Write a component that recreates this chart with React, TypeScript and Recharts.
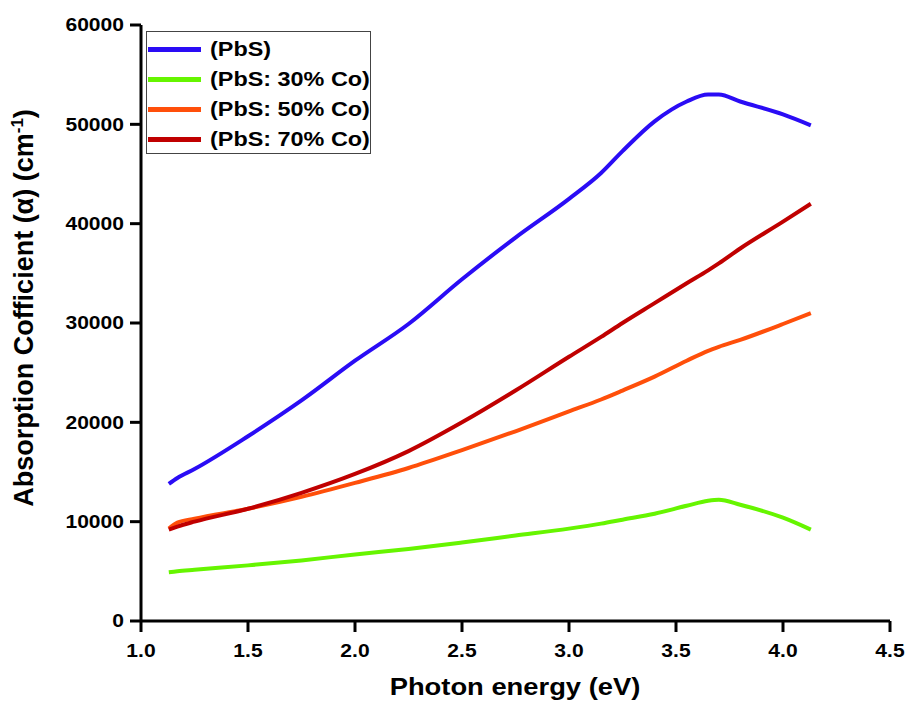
import React from "react";
import { LineChart, Line, XAxis, YAxis } from "recharts";

const energy = [1.13, 1.17, 1.25, 1.5, 1.75, 2.0, 2.25, 2.5, 2.75, 3.0, 3.15, 3.25, 3.4, 3.55, 3.65, 3.7, 3.8, 4.0, 4.13];
const pbs = [13800, 14400, 15300, 18600, 22200, 26200, 29900, 34400, 38600, 42500, 45100, 47300, 50300, 52300, 53000, 53000, 52300, 51000, 49900];
const co30 = [4900, 5000, 5150, 5600, 6100, 6700, 7250, 7900, 8600, 9300, 9800, 10200, 10800, 11600, 12100, 12200, 11700, 10400, 9200];
const co50 = [9300, 9900, 10300, 11300, 12500, 13900, 15400, 17200, 19100, 21100, 22300, 23200, 24600, 26200, 27200, 27600, 28300, 29900, 31000];
const co70 = [9200, 9500, 10000, 11300, 12900, 14800, 17100, 20000, 23200, 26600, 28600, 30000, 32000, 34000, 35300, 36000, 37500, 40200, 42000];

const xTicks = [1.0, 1.5, 2.0, 2.5, 3.0, 3.5, 4.0, 4.5];
const xMinor = [1.25, 1.75, 2.25, 2.75, 3.25, 3.75, 4.25];
const yTicks = [0, 10000, 20000, 30000, 40000, 50000, 60000];
const yMinor = [5000, 15000, 25000, 35000, 45000, 55000];

const series = [
  { key: "pbs", name: "(PbS)", color: "#2a0cf5" },
  { key: "co30", name: "(PbS: 30% Co)", color: "#66f500" },
  { key: "co50", name: "(PbS: 50% Co)", color: "#ff4f0a" },
  { key: "co70", name: "(PbS: 70% Co)", color: "#c00000" },
];

const data = energy.map((e, i) => ({ e, pbs: pbs[i], co30: co30[i], co50: co50[i], co70: co70[i] }));

const FONT = "'Liberation Sans', Arial, sans-serif";
const STRETCH = 1.17;
const MAJOR = 11;
const MINOR = 6;
const XGAP = 12;
const YGAP = 6;

const XTick = (props: any) => {
  const x = Number(props.x);
  const y = Number(props.y);
  return (
    <g>
      <line x1={x} x2={x} y1={y - XGAP - MAJOR} y2={y - XGAP} stroke="#000" strokeWidth={3} />
      <text
        transform={`translate(${x},${y}) scale(${STRETCH},1)`}
        textAnchor="middle"
        dy="0.71em"
        fontFamily={FONT}
        fontSize={18}
        fontWeight={700}
        fill="#000"
      >
        {Number(props.payload.value).toFixed(1)}
      </text>
    </g>
  );
};

const XMinorTick = (props: any) => {
  const x = Number(props.x);
  const y = Number(props.y);
  return <line x1={x} x2={x} y1={y - XGAP} y2={y - XGAP + MINOR} stroke="#000" strokeWidth={3} />;
};

const YTick = (props: any) => {
  const x = Number(props.x);
  const y = Number(props.y);
  return (
    <g>
      <line x1={x + YGAP} x2={x + YGAP + MAJOR} y1={y} y2={y} stroke="#000" strokeWidth={3} />
      <text
        transform={`translate(${x},${y}) scale(${STRETCH},1)`}
        textAnchor="end"
        dy="0.36em"
        fontFamily={FONT}
        fontSize={18}
        fontWeight={700}
        fill="#000"
      >
        {props.payload.value}
      </text>
    </g>
  );
};

const YMinorTick = (props: any) => {
  const x = Number(props.x);
  const y = Number(props.y);
  return <line x1={x + YGAP + MAJOR - MINOR} x2={x + YGAP + MAJOR} y1={y} y2={y} stroke="#000" strokeWidth={3} />;
};

const LegendBox = () => (
  <div
    style={{
      position: "absolute",
      left: 146,
      top: 31,
      width: 225,
      height: 123,
      border: "1px solid #444",
      background: "#fff",
      boxSizing: "border-box",
      fontFamily: FONT,
      paddingTop: 2,
    }}
  >
    {series.map((s) => (
      <div key={s.key} style={{ display: "flex", alignItems: "center", height: 30 }}>
        <div style={{ width: 53, height: 5, background: s.color, marginLeft: 1, marginRight: 9 }} />
        <span
          style={{
            fontSize: 20,
            fontWeight: 700,
            color: "#000",
            display: "inline-block",
            transform: `scaleX(${STRETCH})`,
            transformOrigin: "left center",
            whiteSpace: "nowrap",
          }}
        >
          {s.name}
        </span>
      </div>
    ))}
  </div>
);

const YLabel = () => (
  <text
    x={0}
    y={0}
    transform="translate(33, 308) rotate(-90)"
    textAnchor="middle"
    fontFamily={FONT}
    fontSize={27}
    fontWeight={700}
    fill="#000"
  >
    Absorption Cofficient (α) (cm
    <tspan dy={-10} fontSize={17}>-1</tspan>
    <tspan dy={10}>)</tspan>
  </text>
);

const XLabel = () => (
  <text
    transform={`translate(515, 695) scale(1.14,1)`}
    textAnchor="middle"
    fontFamily={FONT}
    fontSize={24}
    fontWeight={700}
    fill="#000"
  >
    Photon energy (eV)
  </text>
);

export default function App() {
  return (
    <div style={{ position: "absolute", left: 0, top: 0, width: 908, height: 702, background: "#fff" }}>
      <LineChart width={908} height={702} data={data} margin={{ top: 25, right: 18, bottom: 0, left: 0 }}>
        <XAxis
          xAxisId="main"
          dataKey="e"
          type="number"
          domain={[1, 4.5]}
          ticks={xTicks}
          tick={<XTick />}
          tickSize={MAJOR}
          tickMargin={XGAP}
          axisLine={{ stroke: "#000", strokeWidth: 3 }}
          tickLine={false}
          height={81}
          label={<XLabel />}
        />
        <XAxis
          xAxisId="minor"
          dataKey="e"
          type="number"
          domain={[1, 4.5]}
          ticks={xMinor}
          tick={<XMinorTick />}
          tickSize={0}
          tickMargin={XGAP}
          axisLine={false}
          tickLine={false}
          height={0}
        />
        <XAxis
          xAxisId="top"
          orientation="top"
          dataKey="e"
          type="number"
          domain={[1, 4.5]}
          tick={false}
          tickLine={false}
          axisLine={{ stroke: "#000", strokeWidth: 3 }}
          height={0}
        />
        <YAxis
          yAxisId="main"
          domain={[0, 60000]}
          ticks={yTicks}
          tick={<YTick />}
          tickSize={MAJOR}
          tickMargin={YGAP}
          width={141}
          axisLine={{ stroke: "#000", strokeWidth: 3 }}
          tickLine={false}
          label={<YLabel />}
        />
        <YAxis
          yAxisId="minor"
          domain={[0, 60000]}
          ticks={yMinor}
          tick={<YMinorTick />}
          tickSize={MAJOR}
          tickMargin={YGAP}
          width={0}
          axisLine={false}
          tickLine={false}
        />
        <YAxis
          yAxisId="right"
          orientation="right"
          domain={[0, 60000]}
          tick={false}
          tickLine={false}
          width={0}
          axisLine={{ stroke: "#000", strokeWidth: 3 }}
        />
        {series.map((s) => (
          <Line
            key={s.key}
            xAxisId="main"
            yAxisId="main"
            type="monotone"
            dataKey={s.key}
            name={s.name}
            stroke={s.color}
            strokeWidth={4}
            dot={false}
            isAnimationActive={false}
          />
        ))}
      </LineChart>
      <LegendBox />
    </div>
  );
}
